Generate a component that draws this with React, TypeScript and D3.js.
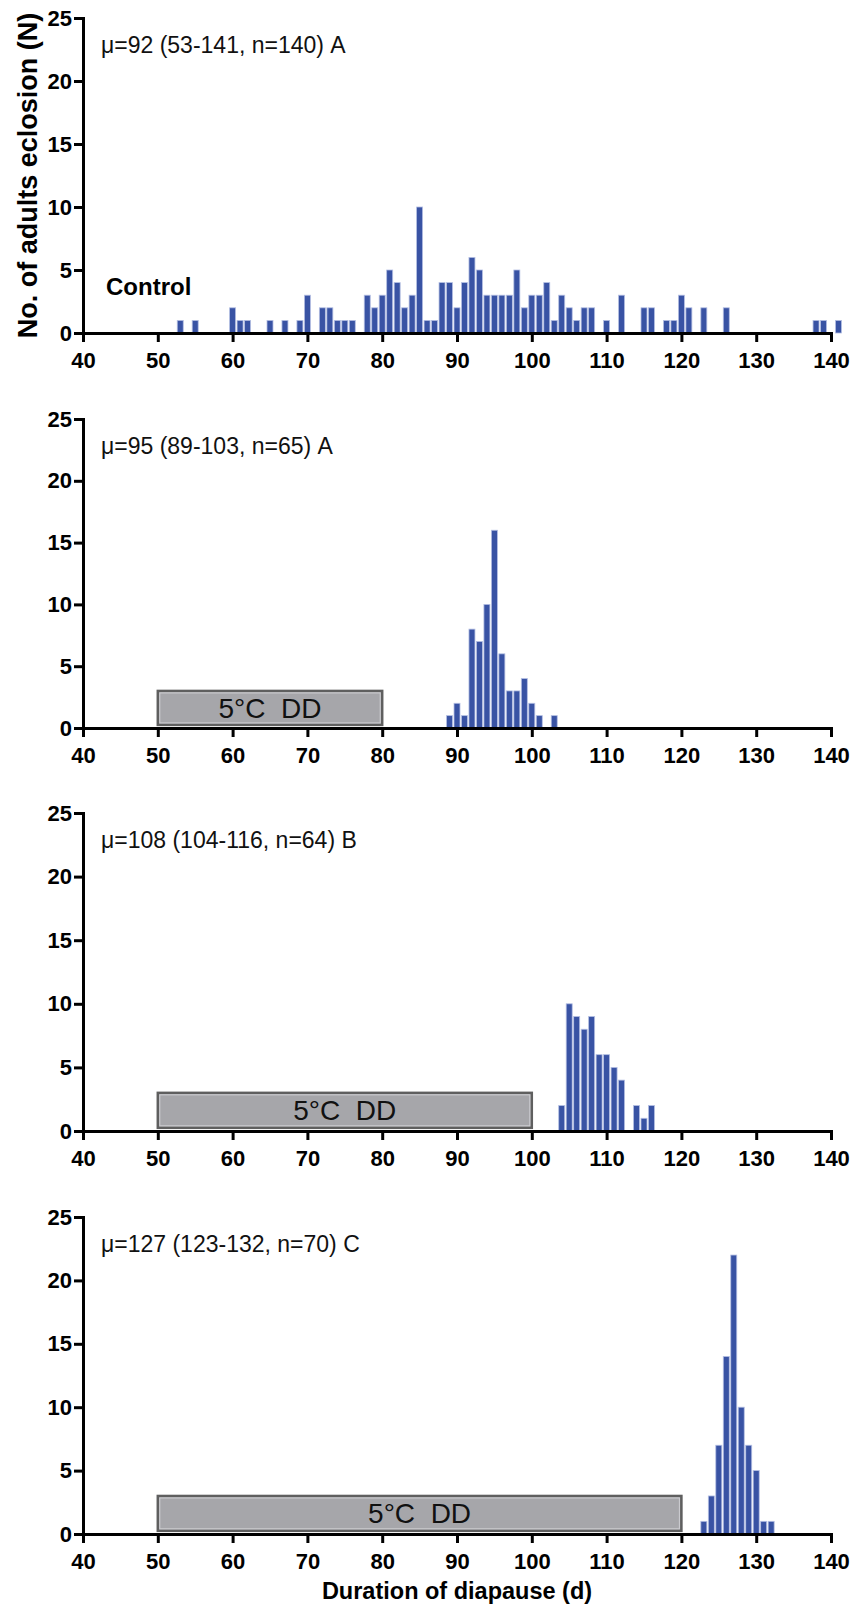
import { useEffect, useRef } from 'react'
import * as d3 from 'd3'

// Control (no chilling)
const controlDays = [53, 55, 60, 61, 62, 65, 67, 69, 70, 72, 73, 74, 75, 76, 78, 79, 80, 81, 82, 83, 84, 85, 86, 87, 88, 89, 90, 91, 92, 93, 94, 95, 96, 97, 98, 99, 100, 101, 102, 103, 104, 105, 106, 107, 108, 110, 112, 115, 116, 118, 119, 120, 121, 123, 126, 138, 139, 141]
const controlCounts = [1, 1, 2, 1, 1, 1, 1, 1, 3, 2, 2, 1, 1, 1, 3, 2, 3, 5, 4, 2, 3, 10, 1, 1, 4, 4, 2, 4, 6, 5, 3, 3, 3, 3, 5, 2, 3, 3, 4, 1, 3, 2, 1, 2, 2, 1, 3, 2, 2, 1, 1, 3, 2, 2, 2, 1, 1, 1]

// 5°C DD for 30 days
const chill30Days = [89, 90, 91, 92, 93, 94, 95, 96, 97, 98, 99, 100, 101, 103]
const chill30Counts = [1, 2, 1, 8, 7, 10, 16, 6, 3, 3, 4, 2, 1, 1]

// 5°C DD for 50 days
const chill50Days = [104, 105, 106, 107, 108, 109, 110, 111, 112, 114, 115, 116]
const chill50Counts = [2, 10, 9, 8, 9, 6, 6, 5, 4, 2, 1, 2]

// 5°C DD for 70 days
const chill70Days = [123, 124, 125, 126, 127, 128, 129, 130, 131, 132]
const chill70Counts = [1, 3, 7, 14, 22, 10, 7, 5, 1, 1]

const panelNotes = [
  'μ=92 (53-141, n=140) A',
  'μ=95 (89-103, n=65) A',
  'μ=108 (104-116, n=64) B',
  'μ=127 (123-132, n=70) C',
]
const chillEnds = [0, 80, 100, 120]
const chillLabel = '5°C\u00a0\u00a0DD'
const xTicks = [40, 50, 60, 70, 80, 90, 100, 110, 120, 130, 140]
const yTicks = [0, 5, 10, 15, 20, 25]

const FONT = 'Arial, "Liberation Sans", Helvetica, sans-serif'

export default function App() {
  const svgRef = useRef<SVGSVGElement>(null)

  useEffect(() => {
    if (!svgRef.current) return
    const svg = d3.select(svgRef.current)
    svg.selectAll('*').remove()

    const panels = [
      { days: controlDays, counts: controlCounts, top: 18, bottom: 333 },
      { days: chill30Days, counts: chill30Counts, top: 419, bottom: 728 },
      { days: chill50Days, counts: chill50Counts, top: 813, bottom: 1131 },
      { days: chill70Days, counts: chill70Counts, top: 1217, bottom: 1534 },
    ]

    const x = d3.scaleLinear().domain([40, 140]).range([83, 831])
    const barW = 6

    panels.forEach((p, i) => {
      const y = d3.scaleLinear().domain([0, 25]).range([p.bottom, p.top])
      const g = svg.append('g')

      // chilling period box
      if (chillEnds[i]) {
        const bx = x(50)
        const bw = x(chillEnds[i]) - x(50)
        const by = y(3)
        const bh = y(0.25) - y(3)
        g.append('rect')
          .attr('x', bx)
          .attr('y', by)
          .attr('width', bw)
          .attr('height', bh)
          .attr('fill', '#a6a6aa')
          .attr('stroke', '#5f5f5f')
          .attr('stroke-width', 2.5)
        g.append('rect')
          .attr('x', bx + 2)
          .attr('y', by + 2)
          .attr('width', bw - 4)
          .attr('height', bh - 4)
          .attr('fill', 'none')
          .attr('stroke', '#cfcfd3')
          .attr('stroke-width', 1)
        g.append('text')
          .attr('x', bx + bw / 2)
          .attr('y', by + bh / 2)
          .attr('dy', '0.36em')
          .attr('text-anchor', 'middle')
          .attr('font-family', FONT)
          .attr('font-size', 28)
          .attr('fill', '#111')
          .text(chillLabel)
      }

      // bars
      g.selectAll('rect.bar')
        .data(d3.zip(p.days, p.counts))
        .join('rect')
        .attr('class', 'bar')
        .attr('x', (d) => x(d[0]) - barW / 2)
        .attr('y', (d) => y(d[1]))
        .attr('width', barW)
        .attr('height', (d) => y(0) - y(d[1]))
        .attr('fill', '#3953a4')
        .attr('stroke', '#b4bfe3')
        .attr('stroke-width', 0.8)

      // axes
      const xAxis = g
        .append('g')
        .attr('transform', `translate(0,${p.bottom})`)
        .call(d3.axisBottom(x).tickValues(xTicks).tickSize(9).tickSizeOuter(0).tickPadding(5).tickFormat(d3.format('d')))
      const yAxis = g
        .append('g')
        .attr('transform', `translate(${x(40)},0)`)
        .call(d3.axisLeft(y).tickValues(yTicks).tickSize(9).tickSizeOuter(0).tickPadding(2).tickFormat(d3.format('d')))

      ;[xAxis, yAxis].forEach((a) => {
        a.attr('font-family', FONT).attr('font-size', 22).attr('font-weight', 'bold')
        a.selectAll('path.domain').attr('stroke', '#000').attr('stroke-width', 3).attr('stroke-linecap', 'square')
        a.selectAll('.tick line').attr('stroke', '#000').attr('stroke-width', 3)
        a.selectAll('.tick text').attr('fill', '#000')
      })
      xAxis.selectAll('.tick text').attr('dy', '0.95em')

      // note
      g.append('text')
        .attr('x', 101)
        .attr('y', p.top + 35)
        .attr('font-family', FONT)
        .attr('font-size', 23)
        .attr('fill', '#111')
        .text(panelNotes[i])
    })

    svg.append('text')
      .attr('x', 106)
      .attr('y', 295)
      .attr('font-family', FONT)
      .attr('font-size', 24)
      .attr('font-weight', 'bold')
      .attr('fill', '#000')
      .text('Control')

    svg.append('text')
      .attr('transform', `translate(37,${(18 + 333) / 2}) rotate(-90)`)
      .attr('text-anchor', 'middle')
      .attr('font-family', FONT)
      .attr('font-size', 27)
      .attr('font-weight', 'bold')
      .attr('fill', '#000')
      .text('No. of adults eclosion (N)')

    svg.append('text')
      .attr('x', x(90))
      .attr('y', 1599)
      .attr('text-anchor', 'middle')
      .attr('font-family', FONT)
      .attr('font-size', 23.5)
      .attr('font-weight', 'bold')
      .attr('fill', '#000')
      .text('Duration of diapause (d)')
  }, [])

  return (
    <svg
      ref={svgRef}
      width={859}
      height={1610}
      style={{ position: 'absolute', left: 0, top: 0, background: '#fff', display: 'block' }}
    />
  )
}
